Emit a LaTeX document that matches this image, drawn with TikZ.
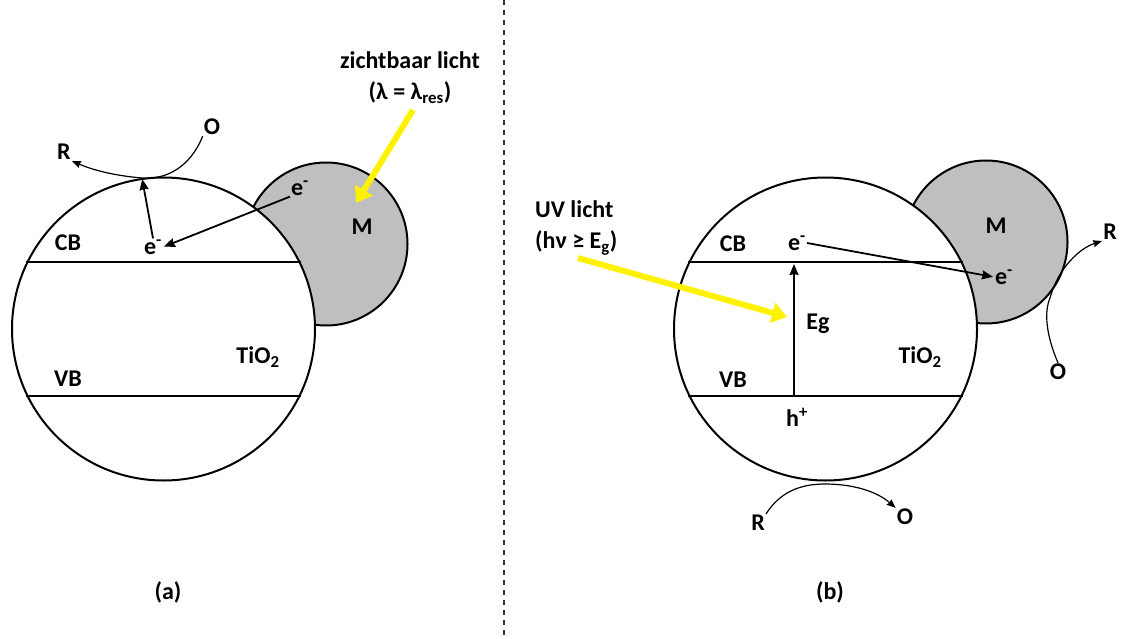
\documentclass[tikz,border=0pt]{standalone}
\usepackage{fontspec}
\setmainfont{Carlito}
\usepackage{tikz}
\usetikzlibrary{arrows, arrows.meta, positioning, calc}

\begin{document}
\begin{tikzpicture}[
    x=1pt, y=-1pt,
    font=\fontsize{24}{26}\selectfont\bfseries,
    node distance=6pt and 8pt,
    lbl/.style={inner sep=1pt},
    tio/.style={circle, draw=black, line width=2pt, fill=white, minimum size=303pt, inner sep=0pt},
    metal/.style={circle, draw=black, line width=2pt, fill=black!25, minimum size=163pt, inner sep=0pt},
    band/.style={line width=2pt},
    arrow/.style={-{Stealth[length=11pt,width=9pt,inset=1pt]}, line width=1.8pt, shorten >=1pt},
    redox/.style={-{Stealth[length=9pt,width=7pt,inset=1pt]}, line width=1.2pt},
    light/.style={-{Triangle[width=20pt,length=15pt]}, draw=yellow, line width=6pt}
]
\useasboundingbox (0,0) rectangle (1123,639);

% divider
\draw[black!80, line width=1.3pt, dash pattern=on 5pt off 5pt] (504,0) -- (504,639);

%%% (a) plasmonic metal
\node[metal] (ma) at (326,244) {};
\node[tio] (ta) at (163.5,329) {};
\draw[band] (ta.154) -- (ta.26);
\draw[band] (ta.206) -- (ta.334);

\node[lbl] (cba) at (68,243) {CB};
\node[lbl] (vba) at (68,379) {VB};
\node[lbl] (tia) at (258,357) {TiO\textsubscript{2}};
\node[lbl] (Ma) at (362,227) {M};
\node[lbl] (ema) at (300,188) {e\textsuperscript{-}};
\node[lbl] (eca) at (153,247) {e\textsuperscript{-}};

\node[lbl] (visa) at (410,60) {zichtbaar licht};
\node[lbl] (lama) at (410,93) {(λ = λ\textsubscript{res})};

\node[lbl] (oa) at (212,127) {O};
\node[lbl] (ra) at (64,152) {R};
\coordinate (topa) at (142,178);

\draw[arrow] (ema.south west) -- (eca.east);
\draw[arrow] (eca.north) -- (topa);
\draw[redox] (oa.south west) .. controls (190,168) and (165,180) .. (topa)
    .. controls (118,176) and (95,171) .. (ra.south east);
\draw[light] (413,110) -- (356,203);

\node[lbl] (capa) at (168,592) {(a)};

%%% (b) UV excitation
\node[metal] (mb) at (986,242) {};
\node[tio] (tb) at (825.5,329) {};
\draw[band] (tb.154) -- (tb.26);
\draw[band] (tb.206) -- (tb.334);

\node[lbl] (cbb) at (733,244) {CB};
\node[lbl] (vbb) at (733,380) {VB};
\node[lbl] (tib) at (920,357) {TiO\textsubscript{2}};
\node[lbl] (Mb) at (996,226) {M};
\node[lbl] (ecb) at (797,243) {e\textsuperscript{-}};
\node[lbl] (emb) at (1004,277) {e\textsuperscript{-}};
\node[lbl] (egb) at (818,324) {Eg};
\node[lbl] (hb) at (797,417) {h\textsuperscript{+}};

\node[lbl, anchor=west] (uvb) at (534,209) {UV licht};
\node[lbl, anchor=west] (hnub) at (534,243) {(hν ≥ E\textsubscript{g})};

\coordinate (vbx) at (794,396);
\coordinate (cbx) at (794,263);
\draw[arrow] (vbx) -- (cbx);
\draw[arrow] (ecb.east) -- (emb.west);
\draw[light] (578,258) -- (787,317);

\node[lbl] (or) at (1058,372) {O};
\node[lbl] (rr) at (1110,232) {R};
\coordinate (sideb) at (1050,298);
\draw[redox] (or.north) .. controls (1046,335) and (1044,312) .. (sideb)
    .. controls (1058,268) and (1080,248) .. (rr.south west);

\node[lbl] (rb) at (758,523) {R};
\node[lbl] (ob) at (905,517) {O};
\coordinate (botb) at (825,484);
\draw[redox] (rb.north east) .. controls (780,492) and (800,484) .. (botb)
    .. controls (850,484) and (875,490) .. (ob.north west);

\node[lbl] (capb) at (830,592) {(b)};
\end{tikzpicture}
\end{document}
